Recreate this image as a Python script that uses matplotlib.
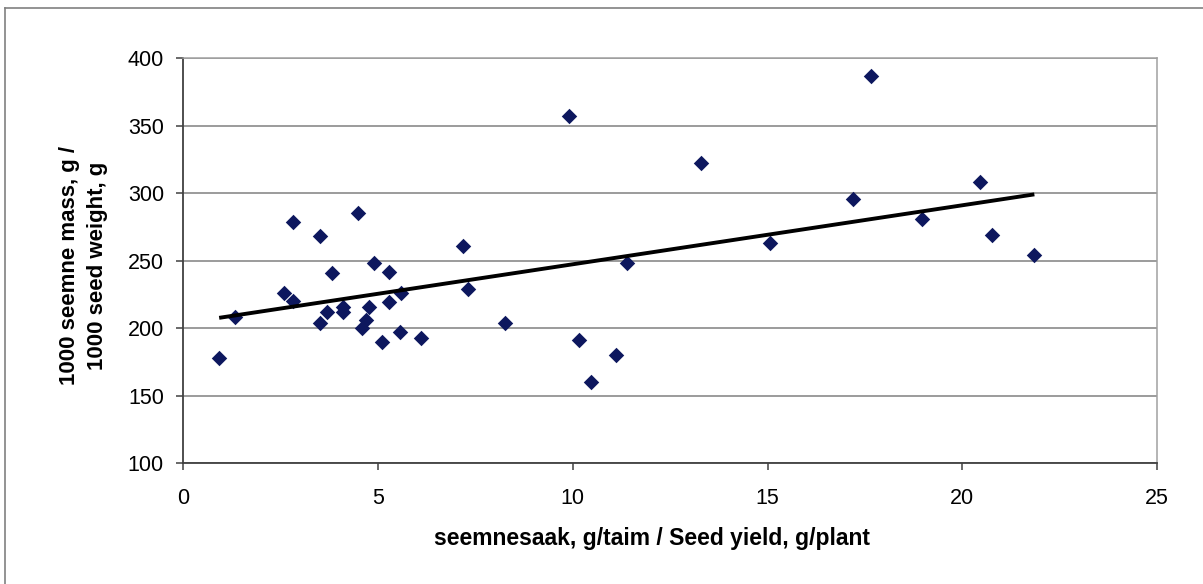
import numpy as np
import matplotlib
matplotlib.use("Agg")
import matplotlib.pyplot as plt
from matplotlib.lines import Line2D

plt.rcParams['font.family'] = ['Liberation Sans', 'DejaVu Sans']

# seed yield, g/plant
seed_yield = [0.92, 1.33, 2.59, 2.82, 2.82, 3.51, 3.51, 3.68, 3.81, 4.09,
              4.09, 4.49, 4.60, 4.70, 4.77, 4.89, 5.11, 5.28, 5.28, 5.57,
              5.60, 6.10, 7.18, 7.31, 8.27, 9.89, 10.17, 10.47, 11.10, 11.39,
              13.29, 15.06, 17.19, 17.65, 18.97, 20.46, 20.75, 21.85]
# 1000 seed weight, g
seed_weight = [178.3, 208.0, 225.7, 278.7, 220.2, 268.4, 203.5, 212.1, 240.5, 215.8,
               212.1, 285.0, 200.5, 206.4, 215.8, 248.0, 189.9, 241.7, 219.5, 197.3,
               225.7, 193.1, 261.0, 228.7, 203.5, 357.3, 191.6, 160.2, 179.8, 248.0,
               322.0, 262.7, 295.3, 386.9, 280.5, 308.4, 268.7, 253.9]

x_ticks = [0, 5, 10, 15, 20, 25]
y_ticks = [100, 150, 200, 250, 300, 350, 400]

xlabel = "seemnesaak, g/taim / Seed yield, g/plant"
ylabel = "1000 seemne mass, g /\n1000 seed weight, g"


def main():
    fig = plt.figure(figsize=(12.03, 5.84), dpi=100)
    ax = fig.add_axes([0.1524, 0.2067, 0.8094, 0.694])

    # outer chart frame (only left and top edge visible in the picture)
    fig.add_artist(Line2D([4.5 / 1203, 4.5 / 1203], [0, 1 - 7.5 / 584],
                          transform=fig.transFigure, color='#808080', lw=1.2))
    fig.add_artist(Line2D([4.5 / 1203, 1], [1 - 7.5 / 584, 1 - 7.5 / 584],
                          transform=fig.transFigure, color='#808080', lw=1.2))

    x = np.array(seed_yield)
    y = np.array(seed_weight)

    ax.scatter(x, y, marker='D', s=62, color='#0d175e', zorder=3, linewidths=0)

    # linear trendline
    k, b = np.polyfit(x, y, 1)
    xs = np.array([x.min(), x.max()])
    ax.plot(xs, k * xs + b, color='black', lw=2.8, zorder=4, solid_capstyle='butt')

    ax.set_xlim(0, 25)
    ax.set_ylim(100, 400)
    ax.set_xticks(x_ticks)
    ax.set_yticks(y_ticks)
    ax.yaxis.grid(True, color='#808080', lw=1.1)
    ax.set_axisbelow(True)

    for side in ['top', 'right']:
        ax.spines[side].set_color('#a0a0a0')
        ax.spines[side].set_linewidth(1.1)
    for side in ['left', 'bottom']:
        ax.spines[side].set_color('#404040')
        ax.spines[side].set_linewidth(1.3)

    ax.tick_params(axis='y', direction='out', length=5, width=1.1, color='#404040',
                   labelsize=15.5, pad=9)
    ax.tick_params(axis='x', direction='out', length=5, width=1.1, color='#404040',
                   labelsize=15.5, pad=13)

    ax.set_xlabel(xlabel, fontsize=16.5, fontweight='bold', va='center')
    ax.xaxis.set_label_coords(0.4814, -0.186)
    ax.set_ylabel(ylabel, fontsize=16, fontweight='bold', va='center',
                  linespacing=1.45)
    ax.yaxis.set_label_coords(-0.1025, 0.487)

    fig.savefig("out.png", dpi=100)


if __name__ == '__main__':
    main()
